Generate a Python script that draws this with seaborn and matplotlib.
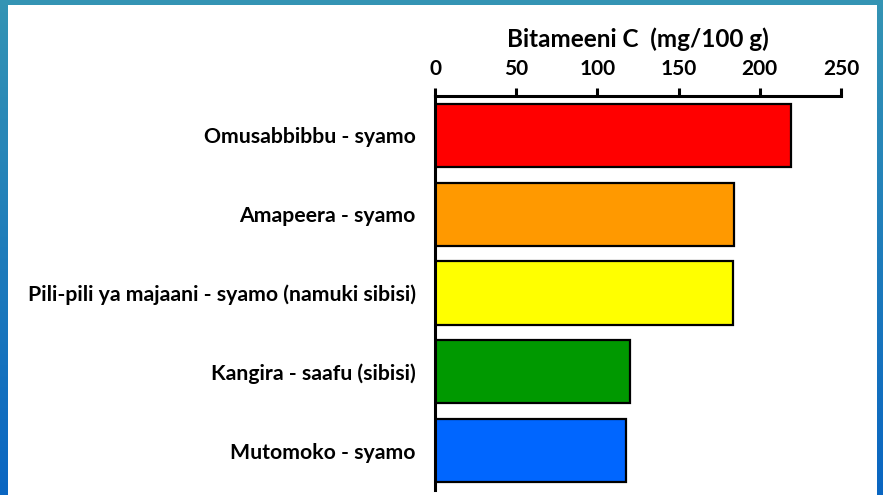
import numpy as np
import pandas as pd
import matplotlib
matplotlib.use("Agg")
import matplotlib.pyplot as plt
import seaborn as sns

# Vitamin C content per food (mg/100 g)
foods = [
    "Omusabbibbu - syamo",
    "Amapeera - syamo",
    "Pili-pili ya majaani - syamo (namuki sibisi)",
    "Kangira - saafu (sibisi)",
    "Mutomoko - syamo",
]
vitamin_c = [219, 184, 183.5, 120, 117.5]
bar_colors = ["#FF0000", "#FF9900", "#FFFF00", "#009900", "#0066FF"]
x_ticks = [0, 50, 100, 150, 200, 250]

sns.set_theme(style="white")
plt.rcParams["font.family"] = ["Lato", "DejaVu Sans"]
plt.rcParams["font.weight"] = "bold"
plt.rcParams["text.color"] = "black"

df = pd.DataFrame({"food": foods, "value": vitamin_c})

fig = plt.figure(figsize=(8.83, 4.95), dpi=100)
fig.patch.set_facecolor("white")

# slide frame: gradient strip on the left/right, thin teal strip on top
grad = np.linspace(0, 1, 256).reshape(-1, 1)
frame_cmap = matplotlib.colors.LinearSegmentedColormap.from_list("frame", ["#3494B4", "#0A66C2"])
left_ax = fig.add_axes([0, 0, 8 / 883, 1])
left_ax.imshow(grad, aspect="auto", cmap=frame_cmap)
left_ax.axis("off")
right_ax = fig.add_axes([877 / 883, 0, 6 / 883, 1])
right_ax.imshow(grad, aspect="auto", cmap=frame_cmap)
right_ax.axis("off")
top_ax = fig.add_axes([0, 1 - 5 / 495, 1, 5 / 495])
top_ax.set_facecolor("#3494B4")
top_ax.set_xticks([])
top_ax.set_yticks([])
for s in top_ax.spines.values():
    s.set_visible(False)

ax = fig.add_axes([435 / 883, 5 / 495, 406 / 883, 394 / 495])
sns.barplot(data=df, y="food", x="value", hue="food", palette=bar_colors,
            saturation=1, orient="h", width=0.8, edgecolor="black", linewidth=1.6,
            legend=False, ax=ax)

ax.set_xlim(0, 250)
ax.set_ylim(4.5, -0.5)
ax.xaxis.tick_top()
ax.xaxis.set_label_position("top")
ax.set_xticks(x_ticks)
ax.set_xticklabels([str(t) for t in x_ticks], fontsize=15, fontweight="bold")
ax.set_xlabel("Bitameeni C  (mg/100 g)", fontsize=17.5, fontweight="bold",
              labelpad=9, color="black")
ax.set_ylabel("")
ax.tick_params(axis="x", direction="out", length=6, width=2.2, pad=6,
               colors="black", labelcolor="black")
ax.tick_params(axis="y", length=0, pad=14, labelcolor="black")
for lbl in ax.get_yticklabels():
    lbl.set_fontsize(15.3)
    lbl.set_fontweight("bold")

for side in ["right", "bottom"]:
    ax.spines[side].set_visible(False)
for side in ["top", "left"]:
    ax.spines[side].set_linewidth(2.2)
    ax.spines[side].set_color("black")

fig.savefig("out.png", dpi=100)
